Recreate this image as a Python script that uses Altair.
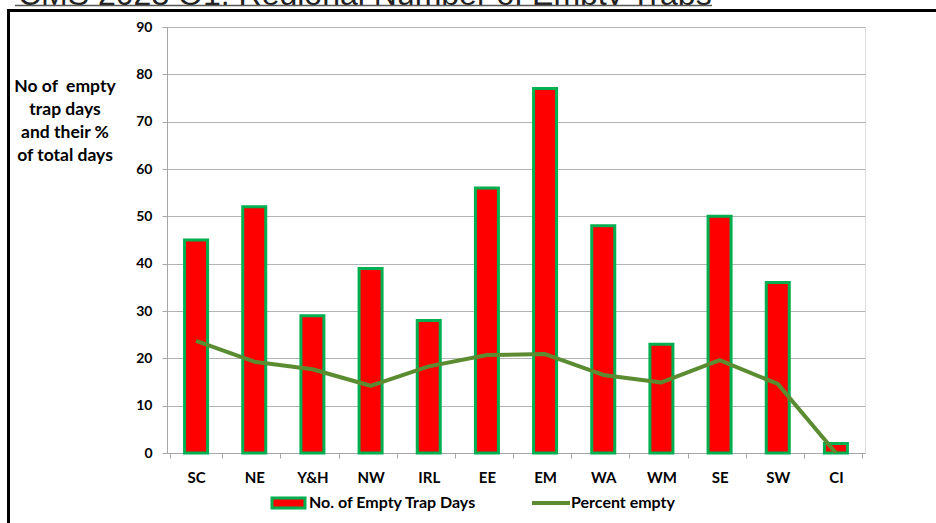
import altair as alt
import pandas as pd

# Regional figures
regions = ["SC", "NE", "Y&H", "NW", "IRL", "EE", "EM", "WA", "WM", "SE", "SW", "CI"]
empty_days = [45, 52, 29, 39, 28, 56, 77, 48, 23, 50, 36, 2]
percent_empty = [23.7, 19.3, 17.7, 14.2, 18.3, 20.7, 20.9, 16.5, 14.9, 19.6, 14.6, 0.0]

title_text = "CMS 2023 Q1: Regional Number of Empty Traps"
y_label = "No of\u00a0 empty\ntrap days\nand their %\nof total days"
legend_bar = "No. of Empty Trap Days"
legend_line = "Percent empty"

df = pd.DataFrame({"region": regions, "days": empty_days, "pct": percent_empty})

FONT = "Lato"
W, H = 698, 426
PAD_L, PAD_T = 167, 27
one = alt.Data(values=[{}])

y_scale = alt.Scale(domain=[0, 90])
x_enc = alt.X(
    "region:N",
    sort=regions,
    title=None,
    axis=alt.Axis(
        labelAngle=0,
        labelFont=FONT,
        labelFontWeight="bold",
        labelFontSize=15,
        labelColor="black",
        labelPadding=12,
        tickBand="extent",
        tickSize=5,
        tickColor="#A6A6A6",
        domainColor="#A6A6A6",
        grid=False,
    ),
)

bars = alt.Chart(df).mark_bar(
    size=23, color="#FF0000", stroke="#00B050", strokeWidth=3
).encode(
    x=x_enc,
    y=alt.Y(
        "days:Q",
        scale=y_scale,
        title=None,
        axis=alt.Axis(
            values=list(range(0, 91, 10)),
            labelFont=FONT,
            labelFontWeight="bold",
            labelFontSize=14,
            labelColor="black",
            labelPadding=10,
            tickSize=5,
            tickColor="#A6A6A6",
            domainColor="#A6A6A6",
            gridColor="#B3B3B3",
        ),
    ),
)

line = alt.Chart(df).mark_line(
    color="#5B8C32", strokeWidth=4, strokeJoin="round"
).encode(
    x=alt.X("region:N", sort=regions),
    y=alt.Y("pct:Q", scale=y_scale),
)

# Chart frame (top and left edges) and the heading above it
frame_top = alt.Chart(one).mark_rule(color="black", strokeWidth=3).encode(
    x=alt.value(7 - PAD_L), x2=alt.value(936 - PAD_L), y=alt.value(10.5 - PAD_T)
)
frame_left = alt.Chart(one).mark_rule(color="black", strokeWidth=3).encode(
    x=alt.value(8.5 - PAD_L), y=alt.value(9 - PAD_T), y2=alt.value(523 - PAD_T)
)
heading = alt.Chart(one).mark_text(
    text=title_text, font="Liberation Sans", fontSize=32, color="#222222",
    align="left", baseline="alphabetic",
).encode(x=alt.value(18 - PAD_L), y=alt.value(4.5 - PAD_T))
heading_mask = alt.Chart(one).mark_rect(color="white").encode(
    x=alt.value(0 - PAD_L), x2=alt.value(936 - PAD_L),
    y=alt.value(5 - PAD_T), y2=alt.value(9 - PAD_T),
)
heading_rule = alt.Chart(one).mark_rule(color="#555555", strokeWidth=1.5).encode(
    x=alt.value(15 - PAD_L), x2=alt.value(712 - PAD_L), y=alt.value(5.5 - PAD_T)
)

ylab = alt.Chart(one).mark_text(
    text=y_label, lineBreak="\n", font=FONT, fontWeight="bold", fontSize=17.5,
    color="black", align="center", baseline="middle", lineHeight=23,
).encode(x=alt.value(65 - PAD_L), y=alt.value(87 - PAD_T))

# Legend
leg_rect = alt.Chart(one).mark_rect(
    color="#FF0000", stroke="#00B050", strokeWidth=3
).encode(
    x=alt.value(272 - PAD_L), x2=alt.value(305 - PAD_L),
    y=alt.value(498 - PAD_T), y2=alt.value(508 - PAD_T),
)
leg_text1 = alt.Chart(one).mark_text(
    text=legend_bar, font=FONT, fontWeight="bold", fontSize=16, color="black",
    align="left", baseline="middle",
).encode(x=alt.value(309 - PAD_L), y=alt.value(503 - PAD_T))
leg_line = alt.Chart(one).mark_rule(color="#5B8C32", strokeWidth=4).encode(
    x=alt.value(532 - PAD_L), x2=alt.value(570 - PAD_L), y=alt.value(503 - PAD_T)
)
leg_text2 = alt.Chart(one).mark_text(
    text=legend_line, font=FONT, fontWeight="bold", fontSize=16, color="black",
    align="left", baseline="middle",
).encode(x=alt.value(571 - PAD_L), y=alt.value(503 - PAD_T))

chart = alt.layer(
    heading, heading_mask, heading_rule, frame_top, frame_left,
    bars, line, ylab, leg_rect, leg_text1, leg_line, leg_text2,
).properties(
    width=W,
    height=H,
    autosize=alt.AutoSizeParams(type="none"),
    padding={"left": PAD_L, "top": PAD_T, "right": 936 - PAD_L - W, "bottom": 523 - PAD_T - H},
).configure_view(stroke=None).configure(background="white")

chart.save("out.html", embed_options={"renderer": "svg", "actions": False})
